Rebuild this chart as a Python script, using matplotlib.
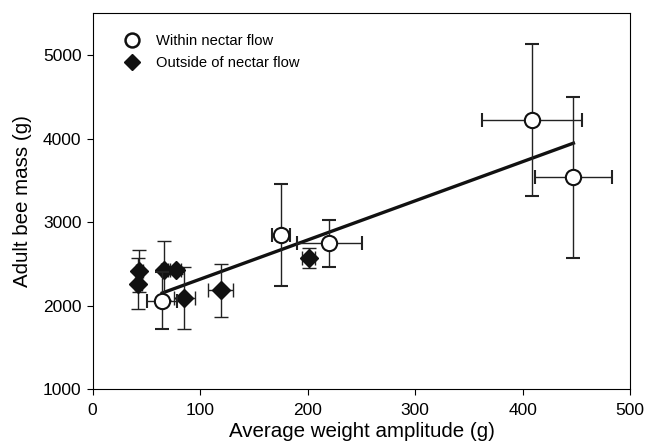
import numpy as np
import matplotlib.pyplot as plt

plt.rcParams['font.family'] = ['Liberation Sans', 'DejaVu Sans']

# Within nectar flow (open circles)
x_in = [64.7, 175.2, 220.1, 408.4, 447.1]
y_in = [2060, 2843, 2743, 4224, 3535]
xerr_in = [14, 8.4, 30.4, 46.6, 35.8]
yerr_in = [347, 610, 278, 907, 968]

# Outside of nectar flow (filled diamonds)
x_out = [43.4, 42.4, 66.6, 77.2, 85.2, 119.1, 200.9]
y_out = [2412, 2262, 2421, 2421, 2090, 2182, 2568]
xerr_out = [3, 3, 3, 5, 10, 11.5, 6]
yerr_out = [251, 307, 350, 40, 372, 316, 117]

fig = plt.figure(figsize=(6.45, 4.46), dpi=100)
ax = fig.add_axes([0.1437, 0.1278, 0.8335, 0.8424])

# regression line through the within-flow points
b1, b0 = np.polyfit(x_in, y_in, 1)
xl = np.array([min(x_in), max(x_in)])
ax.plot(xl, b0 + b1 * xl, color='#111111', lw=2.4, zorder=2)

eb = dict(ecolor='#222222', elinewidth=1.0, capsize=5, capthick=1.0, ls='none')
ax.errorbar(x_out, y_out, xerr=xerr_out, yerr=yerr_out, fmt='D', ms=9,
            mfc='#111111', mec='#111111', zorder=3, label='Outside of nectar flow', **eb)
ax.errorbar(x_in, y_in, xerr=xerr_in, yerr=yerr_in, fmt='o', ms=11,
            mfc='white', mec='#111111', mew=1.5, zorder=4, label='Within nectar flow', **eb)

ax.set_xlim(0, 500)
ax.set_ylim(1000, 5500)
ax.set_xticks([0, 100, 200, 300, 400, 500])
ax.set_yticks([1000, 2000, 3000, 4000, 5000])
ax.tick_params(labelsize=12.5, length=4, direction='out')
ax.tick_params(axis='x', pad=6)
ax.tick_params(axis='y', pad=4)
ax.set_xlabel('Average weight amplitude (g)', fontsize=14.8, labelpad=3)
ax.set_ylabel('Adult bee mass (g)', fontsize=14.8, labelpad=8)

# legend without error bars
h1 = plt.Line2D([], [], marker='o', ls='none', ms=10, mfc='white', mec='#111111', mew=1.8)
h2 = plt.Line2D([], [], marker='D', ls='none', ms=8, mfc='#111111', mec='#111111')
ax.legend([h1, h2], ['Within nectar flow', 'Outside of nectar flow'], loc='upper left',
          bbox_to_anchor=(0.022, 0.98), frameon=False, fontsize=10.6, handletextpad=0.6,
          labelspacing=0.55)

plt.savefig('out.png', dpi=100)
